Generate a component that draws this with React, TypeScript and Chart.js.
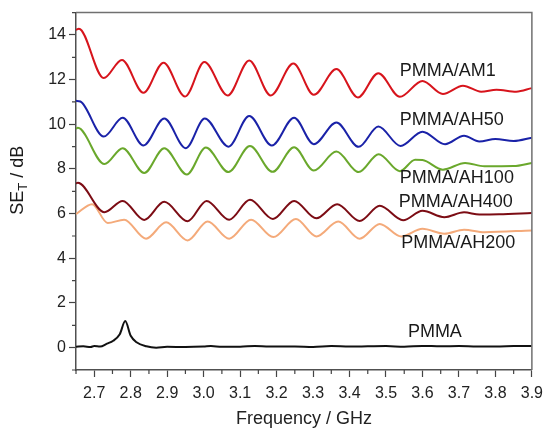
import React, { useEffect, useRef } from 'react';
import { Chart, registerables } from 'chart.js';
import type { ChartConfiguration, Plugin } from 'chart.js';

Chart.register(...registerables);

// values (frequency in GHz, SE_T in dB)
const am1Freq = [2.65, 2.658, 2.726, 2.776, 2.835, 2.89, 2.949, 3.002, 3.066, 3.125, 3.184, 3.246, 3.302, 3.364, 3.423, 3.479, 3.538, 3.6, 3.656, 3.711, 3.761, 3.803, 3.857, 3.9];
const am1Values = [14.22, 14.28, 12.07, 12.88, 11.41, 12.76, 11.24, 12.79, 11.29, 12.86, 11.29, 12.72, 11.32, 12.47, 11.2, 12.29, 11.23, 11.94, 11.36, 11.73, 11.46, 11.55, 11.46, 11.62];

const ah50Freq = [2.65, 2.662, 2.726, 2.778, 2.835, 2.892, 2.951, 3.003, 3.068, 3.125, 3.187, 3.248, 3.302, 3.364, 3.425, 3.479, 3.54, 3.6, 3.662, 3.714, 3.756, 3.8, 3.85, 3.9];
const ah50Values = [11.05, 11.02, 9.45, 10.29, 9.05, 10.26, 8.93, 10.26, 9.0, 10.37, 9.05, 10.29, 9.11, 10.08, 8.99, 9.9, 9.03, 9.67, 9.11, 9.49, 9.23, 9.34, 9.25, 9.4];

const ah100Freq = [2.65, 2.655, 2.728, 2.778, 2.837, 2.892, 2.954, 3.006, 3.068, 3.127, 3.189, 3.248, 3.302, 3.364, 3.425, 3.48, 3.538, 3.58, 3.6, 3.656, 3.717, 3.77, 3.85, 3.9];
const ah100Values = [9.8, 9.84, 8.22, 8.93, 7.82, 8.93, 7.75, 8.96, 7.86, 9.03, 7.87, 8.97, 7.93, 8.78, 7.86, 8.66, 7.9, 8.41, 8.4, 7.97, 8.27, 8.12, 8.13, 8.27];

const ah400Freq = [2.65, 2.655, 2.728, 2.778, 2.837, 2.892, 2.956, 3.008, 3.07, 3.127, 3.19, 3.248, 3.309, 3.366, 3.428, 3.483, 3.547, 3.6, 3.66, 3.714, 3.756, 3.81, 3.9];
const ah400Values = [7.35, 7.38, 6.06, 6.57, 5.72, 6.53, 5.66, 6.57, 5.73, 6.62, 5.76, 6.57, 5.79, 6.42, 5.67, 6.35, 5.7, 6.13, 5.84, 6.06, 5.96, 5.97, 6.03];

const ah200Freq = [2.65, 2.694, 2.737, 2.782, 2.842, 2.897, 2.956, 3.011, 3.07, 3.13, 3.191, 3.253, 3.309, 3.369, 3.428, 3.483, 3.542, 3.6, 3.66, 3.714, 3.77, 3.9];
const ah200Values = [5.98, 6.42, 5.58, 5.73, 4.88, 5.61, 4.8, 5.65, 4.88, 5.73, 4.95, 5.76, 4.98, 5.65, 4.88, 5.54, 4.98, 5.32, 5.1, 5.28, 5.17, 5.25];

const pmmaFreq = [2.65, 2.67, 2.69, 2.7, 2.716, 2.735, 2.752, 2.77, 2.785, 2.8, 2.816, 2.843, 2.87, 2.9, 2.95, 3.0, 3.02, 3.05, 3.1, 3.14, 3.18, 3.25, 3.3, 3.35, 3.4, 3.45, 3.5, 3.55, 3.6, 3.65, 3.7, 3.75, 3.8, 3.85, 3.9];
const pmmaValues = [0.04, 0.06, 0.03, 0.07, 0.05, 0.18, 0.31, 0.6, 1.19, 0.53, 0.24, 0.06, 0.0, 0.04, 0.03, 0.05, 0.07, 0.04, 0.04, 0.08, 0.05, 0.05, 0.03, 0.07, 0.05, 0.06, 0.07, 0.04, 0.08, 0.06, 0.07, 0.05, 0.05, 0.07, 0.08];

const seriesNames = ['PMMA/AM1', 'PMMA/AH50', 'PMMA/AH100', 'PMMA/AH400', 'PMMA/AH200', 'PMMA'];
const seriesColors = ['#d7141c', '#1a22a8', '#6aa82c', '#7c0c14', '#f4aa7a', '#111111'];

// where each series name sits (frequency, dB)
const labelFreq = [3.538, 3.538, 3.538, 3.535, 3.542, 3.56];
const labelValue = [12.38, 10.21, 7.6, 6.54, 4.69, 0.71];

const FONT = '"Liberation Sans", Arial, sans-serif';

const isMajorX = (v: number) => Math.abs(v * 10 - Math.round(v * 10)) < 1e-6;
const isMajorY = (v: number) => Math.abs(v / 2 - Math.round(v / 2)) < 1e-6;

const toPoints = (xs: number[], ys: number[]) => xs.map((x, i) => ({ x, y: ys[i] }));

const framePlugin: Plugin<'line'> = {
  id: 'frame',
  afterDraw(chart) {
    const { ctx, chartArea } = chart;
    const xs = chart.scales.x;
    const ys = chart.scales.y;
    ctx.save();
    // top and right border
    ctx.strokeStyle = '#707070';
    ctx.lineWidth = 1.5;
    ctx.beginPath();
    ctx.moveTo(chartArea.left, chartArea.top);
    ctx.lineTo(chartArea.right, chartArea.top);
    ctx.lineTo(chartArea.right, chartArea.bottom);
    ctx.stroke();

    // minor ticks
    ctx.strokeStyle = '#444';
    ctx.lineWidth = 1.2;
    ctx.beginPath();
    xs.ticks.forEach((t) => {
      if (!isMajorX(t.value)) {
        const px = xs.getPixelForValue(t.value);
        ctx.moveTo(px, chartArea.bottom);
        ctx.lineTo(px, chartArea.bottom + 4);
      }
    });
    ys.ticks.forEach((t) => {
      if (!isMajorY(t.value)) {
        const py = ys.getPixelForValue(t.value);
        ctx.moveTo(chartArea.left, py);
        ctx.lineTo(chartArea.left - 4, py);
      }
    });
    ctx.stroke();

    // series names
    ctx.fillStyle = '#1a1a1a';
    ctx.font = `18px ${FONT}`;
    ctx.textAlign = 'left';
    ctx.textBaseline = 'middle';
    seriesNames.forEach((name, i) => {
      ctx.fillText(name, xs.getPixelForValue(labelFreq[i]), ys.getPixelForValue(labelValue[i]));
    });

    // y title with subscript T
    const cy = (chartArea.top + chartArea.bottom) / 2 - 11;
    ctx.translate(17, cy);
    ctx.rotate(-Math.PI / 2);
    ctx.font = `18px ${FONT}`;
    const w1 = ctx.measureText('SE').width;
    const w3 = ctx.measureText(' / dB').width;
    ctx.font = `13px ${FONT}`;
    const w2 = ctx.measureText('T').width;
    let x0 = -(w1 + w2 + w3) / 2;
    ctx.textBaseline = 'alphabetic';
    ctx.font = `18px ${FONT}`;
    ctx.fillText('SE', x0, 6);
    x0 += w1;
    ctx.font = `13px ${FONT}`;
    ctx.fillText('T', x0, 10);
    x0 += w2;
    ctx.font = `18px ${FONT}`;
    ctx.fillText(' / dB', x0, 6);
    ctx.restore();
  },
};

const App: React.FC = () => {
  const chartRef = useRef<HTMLCanvasElement>(null);
  const chartInstanceRef = useRef<Chart | null>(null);

  useEffect(() => {
    if (!chartRef.current) return;
    if (chartInstanceRef.current) chartInstanceRef.current.destroy();

    const xsList = [am1Freq, ah50Freq, ah100Freq, ah400Freq, ah200Freq, pmmaFreq];
    const ysList = [am1Values, ah50Values, ah100Values, ah400Values, ah200Values, pmmaValues];

    const config: ChartConfiguration<'line'> = {
      type: 'line',
      data: {
        datasets: seriesNames.map((name, i) => ({
          label: name,
          data: toPoints(xsList[i], ysList[i]),
          borderColor: seriesColors[i],
          borderWidth: 2,
          pointRadius: 0,
          fill: false,
          cubicInterpolationMode: 'monotone' as const,
        })),
      },
      options: {
        responsive: true,
        maintainAspectRatio: false,
        animation: false,
        layout: { padding: { top: 9, right: 18, left: 0, bottom: 0 } },
        plugins: {
          legend: { display: false },
          tooltip: { enabled: false },
        },
        scales: {
          x: {
            type: 'linear',
            min: 2.65,
            max: 3.9,
            afterFit: (scale) => {
              scale.height = 65;
            },
            border: { display: true, color: '#505050', width: 1.5 },
            grid: {
              drawOnChartArea: false,
              tickLength: 7,
              tickWidth: 1.2,
              tickColor: (ctx) => (isMajorX(ctx.tick.value) ? '#444' : 'rgba(0,0,0,0)'),
            },
            ticks: {
              stepSize: 0.05,
              autoSkip: false,
              maxRotation: 0,
              padding: 7,
              color: '#222',
              font: { family: FONT, size: 16 },
              callback: (v) => (isMajorX(Number(v)) ? Number(v).toFixed(1) : ''),
            },
            title: {
              display: true,
              text: 'Frequency / GHz',
              color: '#222',
              font: { family: FONT, size: 18 },
              padding: { top: 4, bottom: 5 },
            },
          },
          y: {
            min: -1,
            max: 15,
            afterFit: (scale) => {
              scale.width = 76;
            },
            border: { display: true, color: '#505050', width: 1.5 },
            grid: {
              drawOnChartArea: false,
              tickLength: 7,
              tickWidth: 1.2,
              tickColor: (ctx) => (isMajorY(ctx.tick.value) ? '#444' : 'rgba(0,0,0,0)'),
            },
            ticks: {
              stepSize: 1,
              autoSkip: false,
              padding: 3,
              color: '#222',
              font: { family: FONT, size: 16 },
              callback: (v) => (isMajorY(Number(v)) ? String(v) : ''),
            },
          },
        },
      },
      plugins: [framePlugin],
    };

    chartInstanceRef.current = new Chart(chartRef.current, config);

    return () => {
      if (chartInstanceRef.current) {
        chartInstanceRef.current.destroy();
        chartInstanceRef.current = null;
      }
    };
  }, []);

  return (
    <div style={{ position: 'absolute', left: 0, top: 0, width: 550, height: 435, background: '#fff' }}>
      <canvas ref={chartRef}></canvas>
    </div>
  );
};

export default App;
